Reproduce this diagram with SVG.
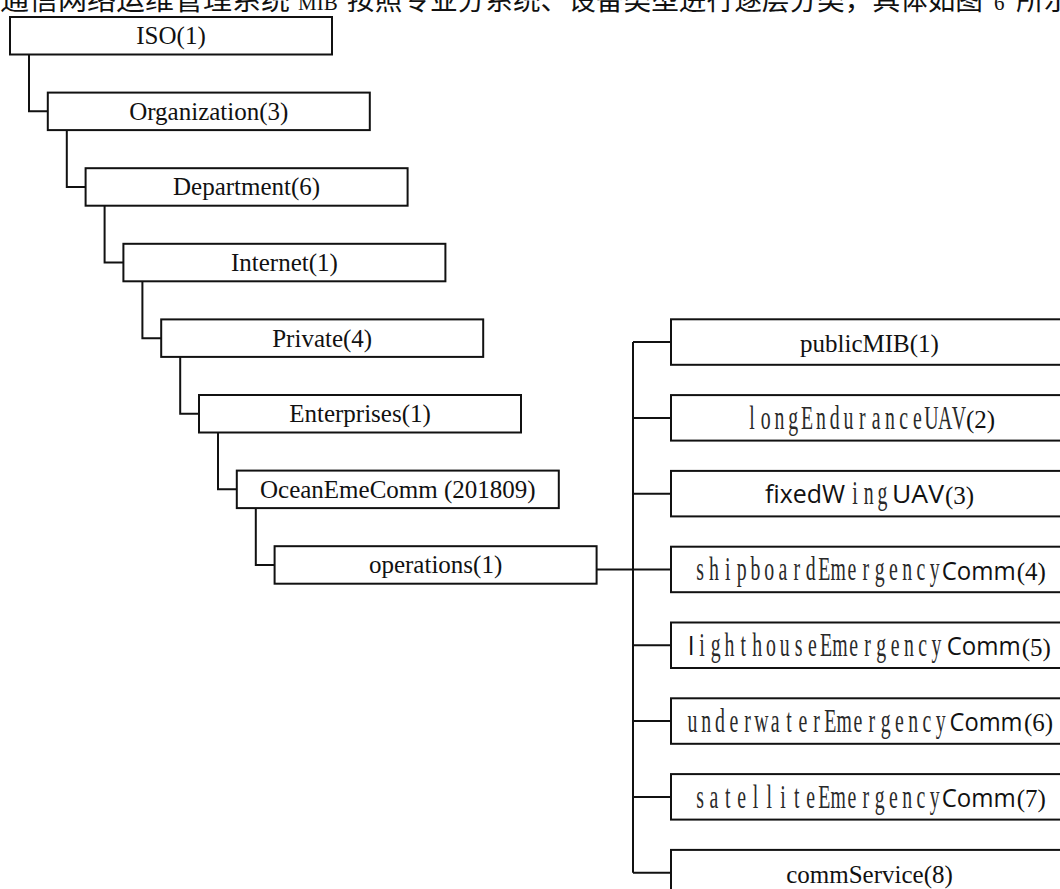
<svg xmlns="http://www.w3.org/2000/svg" width="1060" height="889" viewBox="0 0 1060 889">
<style>
  .box { fill: #ffffff; stroke: #111111; stroke-width: 2; }
  .conn { fill: none; stroke: #111111; stroke-width: 2; }
  .t { font-family: "Liberation Serif", "Times New Roman", serif; font-size: 25px; fill: #111111; }
  .mid { text-anchor: middle; }
  .ss { font-family: "Liberation Serif", "Times New Roman", serif; font-size: 33px; fill: #2a2a2a; text-anchor: middle; }
  .sans { font-family: "Open Sans", "Liberation Sans", sans-serif; font-size: 25px; fill: #111111; }
  .top { font-family: "Liberation Serif", "Noto Sans CJK SC", serif; font-size: 27px; fill: #111111; }
  .topl { font-family: "Liberation Serif", "Times New Roman", serif; font-size: 21px; fill: #111111; }
</style>
<rect x="0" y="0" width="1060" height="889" fill="#ffffff"/>

<g id="caption">
  <text class="top" x="0" y="10" textLength="290" lengthAdjust="spacingAndGlyphs">通信网络运维管理系统</text>
  <text class="topl" x="298" y="10">MIB</text>
  <text class="top" x="347" y="10" textLength="636" lengthAdjust="spacingAndGlyphs">按照专业分系统、设备类型进行逐层分类，具体如图</text>
  <text class="topl" x="994" y="10">6</text>
  <text class="top" x="1016" y="10" textLength="56" lengthAdjust="spacingAndGlyphs">所示</text>
</g>

<g id="connectors">
  <path class="conn" d="M29,54.5 V111.35 H47.8"/>
  <path class="conn" d="M66.8,130.1 V186.95 H85.6"/>
  <path class="conn" d="M104.6,205.7 V262.55 H123.4"/>
  <path class="conn" d="M142.4,281.3 V338.15 H161.2"/>
  <path class="conn" d="M180.2,356.9 V413.75 H199"/>
  <path class="conn" d="M218,432.5 V489.35 H236.8"/>
  <path class="conn" d="M255.8,508.1 V564.95 H274.6"/>
  <path class="conn" d="M596.6,569.5 H671"/>
  <path class="conn" d="M633,342 V872.7"/>
  <path class="conn" d="M633,342 H671"/>
  <path class="conn" d="M633,417.9 H671"/>
  <path class="conn" d="M633,493.7 H671"/>
  <path class="conn" d="M633,645.3 H671"/>
  <path class="conn" d="M633,721.1 H671"/>
  <path class="conn" d="M633,796.9 H671"/>
  <path class="conn" d="M633,872.7 H671"/>
</g>

<g id="iso">
  <rect class="box" x="10" y="17" width="322" height="37.5"/>
  <text class="t mid" x="171" y="44.2">ISO(1)</text>
</g>
<g id="organization">
  <rect class="box" x="47.8" y="92.6" width="322" height="37.5"/>
  <text class="t mid" x="208.8" y="119.8">Organization(3)</text>
</g>
<g id="department">
  <rect class="box" x="85.6" y="168.2" width="322" height="37.5"/>
  <text class="t mid" x="246.6" y="195.4">Department(6)</text>
</g>
<g id="internet">
  <rect class="box" x="123.4" y="243.8" width="322" height="37.5"/>
  <text class="t mid" x="284.4" y="271">Internet(1)</text>
</g>
<g id="private">
  <rect class="box" x="161.2" y="319.4" width="322" height="37.5"/>
  <text class="t mid" x="322.2" y="346.6">Private(4)</text>
</g>
<g id="enterprises">
  <rect class="box" x="199" y="395" width="322" height="37.5"/>
  <text class="t mid" x="360" y="422.2">Enterprises(1)</text>
</g>
<g id="oceanemecomm">
  <rect class="box" x="236.8" y="470.6" width="322" height="37.5"/>
  <text class="t mid" x="397.8" y="497.8">OceanEmeComm (201809)</text>
</g>
<g id="operations">
  <rect class="box" x="274.6" y="546.2" width="322" height="37.5"/>
  <text class="t mid" x="435.6" y="573.4">operations(1)</text>
</g>

<g id="publicmib">
  <rect class="box" x="671" y="319.3" width="400" height="45.5"/>
  <text class="t mid" x="869.5" y="351.5">publicMIB(1)</text>
</g>
<g id="longenduranceuav">
  <rect class="box" x="671" y="395.1" width="400" height="45.5"/>
  <text class="ss" transform="translate(745,428.5) scale(0.6,1)" x="11.5 34.5 57.5 80.5 103.5 126.5 149.5 172.5 195.5 218.5 241.5 264.5 287.5 310.5 333.5 356.5" y="0">longEnduranceUAV</text>
  <text class="t" x="966" y="428">(2)</text>
</g>
<g id="fixedwinguav">
  <rect class="box" x="671" y="470.9" width="400" height="45.5"/>
  <text class="sans" x="765" y="503.4" textLength="80" lengthAdjust="spacingAndGlyphs">fixedW</text>
  <text class="ss" transform="translate(848,504.3) scale(0.6,1)" x="11.5 34.5 57.5" y="0">ing</text>
  <text class="sans" x="892" y="503.4" textLength="52" lengthAdjust="spacingAndGlyphs">UAV</text>
  <text class="t" x="945" y="503.8">(3)</text>
</g>
<g id="shipboard">
  <rect class="box" x="671" y="546.7" width="400" height="45.5"/>
  <text class="ss" transform="translate(693.3,580.3) scale(0.6,1)" x="11.5 34.5 57.5 80.5 103.5 126.5 149.5 172.5 195.5 218.5 241.5 264.5 287.5 310.5 333.5 356.5 379.5 402.5" y="0">shipboardEmergency</text>
  <text class="sans" x="941.7" y="579.5" textLength="74" lengthAdjust="spacingAndGlyphs">Comm</text>
  <text class="t" x="1016.7" y="579.8">(4)</text>
</g>
<g id="lighthouse">
  <rect class="box" x="671" y="622.5" width="400" height="45.5"/>
  <text class="sans" x="688" y="655.3">l</text>
  <text class="ss" transform="translate(695,656.1) scale(0.6,1)" x="11.5 34.5 57.5 80.5 103.5 126.5 149.5 172.5 195.5 218.5 241.5 264.5 287.5 310.5 333.5 356.5 379.5 402.5" y="0">ighthouseEmergency</text>
  <text class="sans" x="946.7" y="655.3" textLength="74" lengthAdjust="spacingAndGlyphs">Comm</text>
  <text class="t" x="1021.7" y="655.6">(5)</text>
</g>
<g id="underwater">
  <rect class="box" x="671" y="698.3" width="400" height="45.5"/>
  <text class="ss" transform="translate(685.5,731.9) scale(0.6,1)" x="11.5 34.5 57.5 80.5 103.5 126.5 149.5 172.5 195.5 218.5 241.5 264.5 287.5 310.5 333.5 356.5 379.5 402.5 425.5" y="0">underwaterEmergency</text>
  <text class="sans" x="949.5" y="731.1" textLength="73" lengthAdjust="spacingAndGlyphs">Comm</text>
  <text class="t" x="1024" y="731.4">(6)</text>
</g>
<g id="satellite">
  <rect class="box" x="671" y="774.1" width="400" height="45.5"/>
  <text class="ss" transform="translate(693.3,807.7) scale(0.6,1)" x="11.5 34.5 57.5 80.5 103.5 126.5 149.5 172.5 195.5 218.5 241.5 264.5 287.5 310.5 333.5 356.5 379.5 402.5" y="0">satelliteEmergency</text>
  <text class="sans" x="941.7" y="806.9" textLength="74" lengthAdjust="spacingAndGlyphs">Comm</text>
  <text class="t" x="1016.7" y="807.2">(7)</text>
</g>
<g id="commservice">
  <rect class="box" x="671" y="849.9" width="400" height="60"/>
  <text class="t mid" x="869.5" y="882.5">commService(8)</text>
</g>
</svg>
